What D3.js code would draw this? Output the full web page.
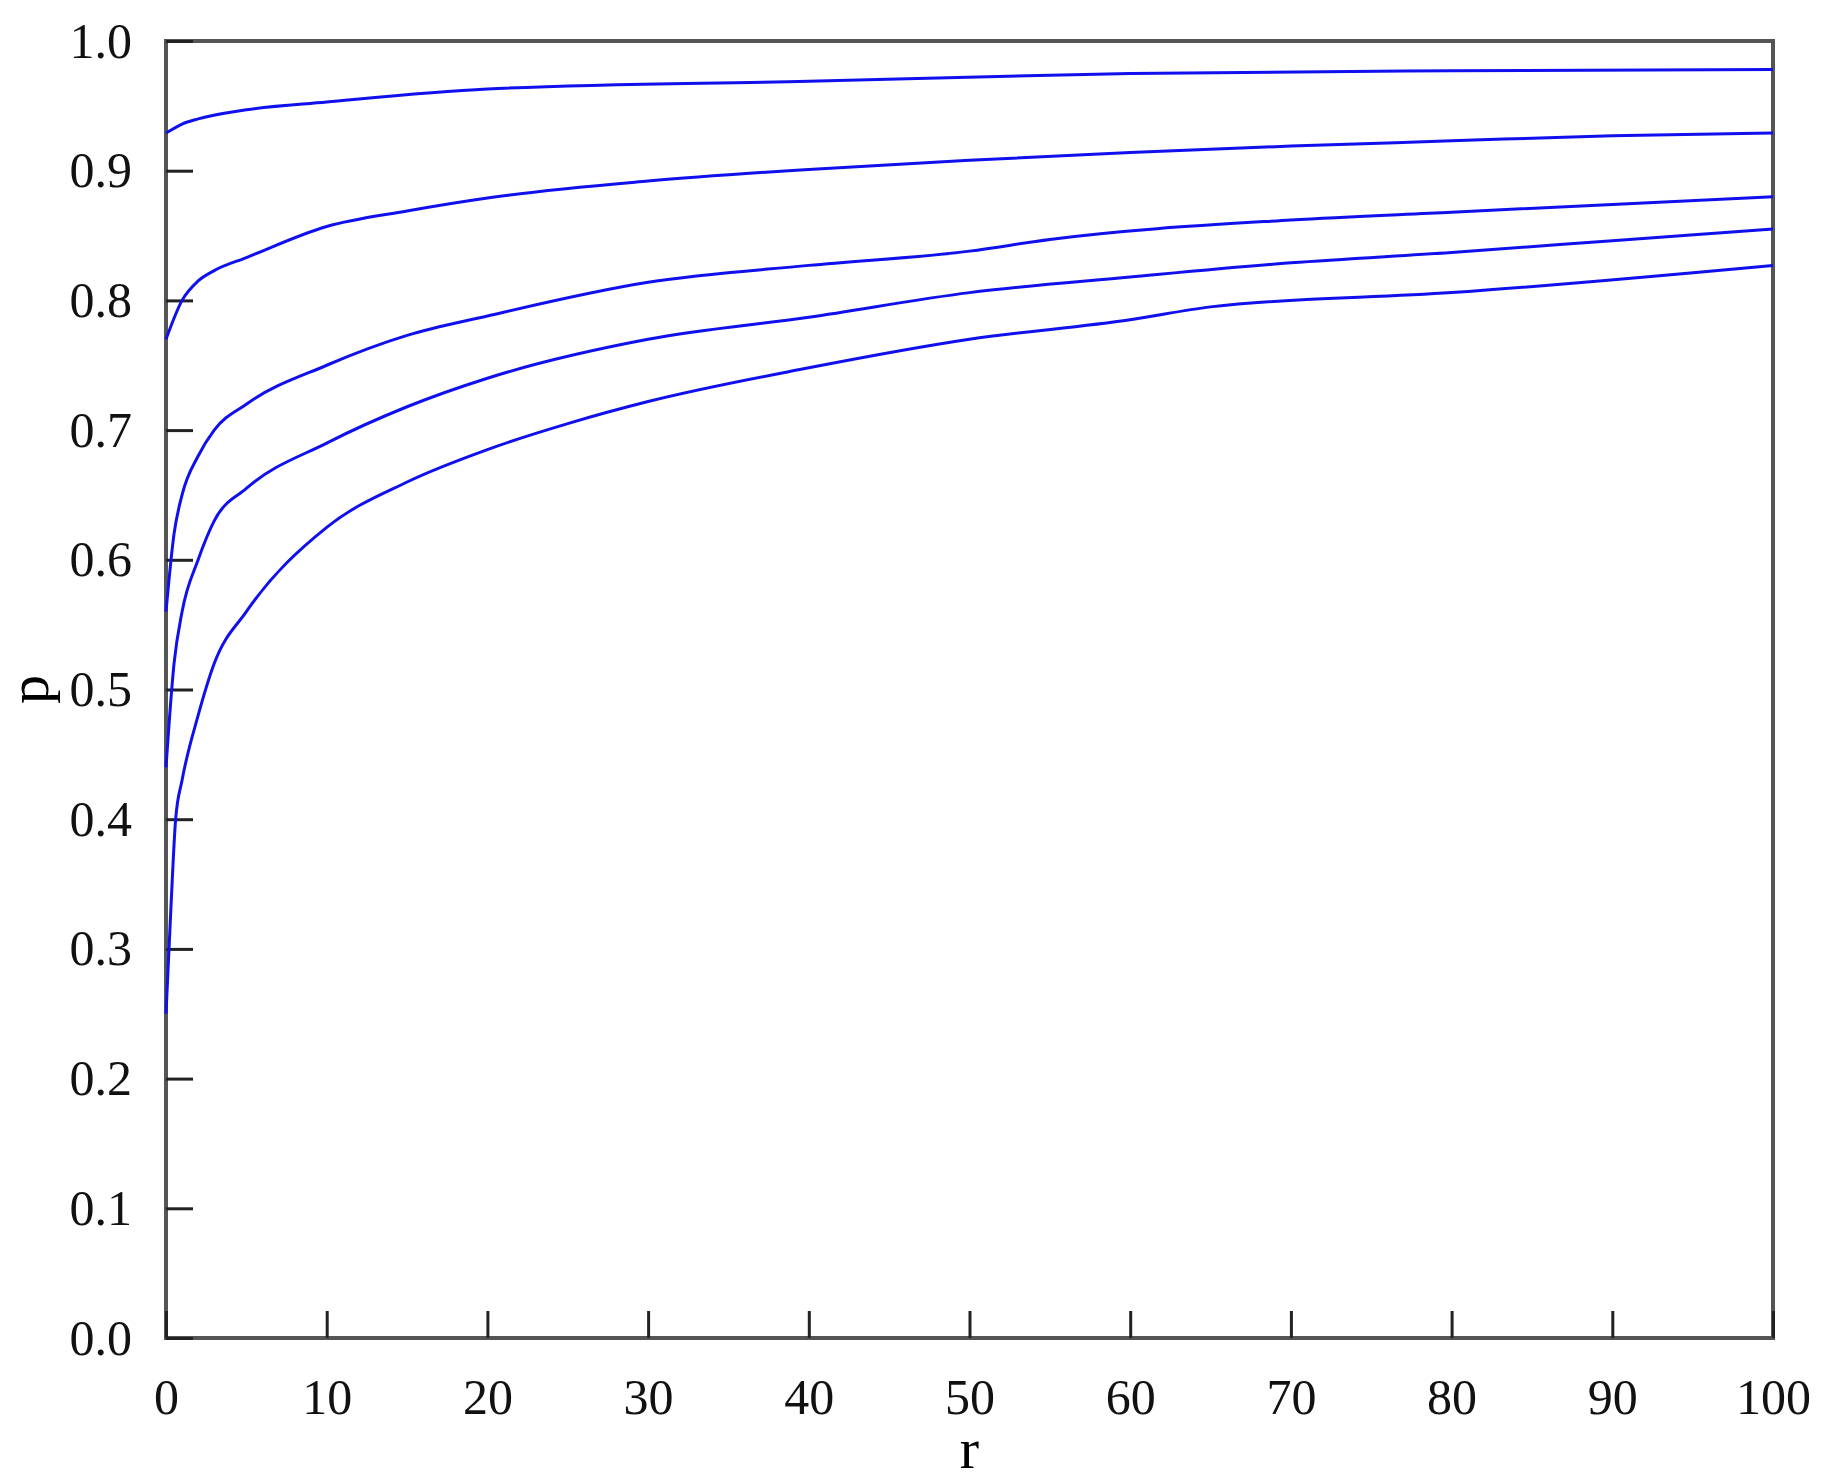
<!DOCTYPE html>
<html><head><meta charset="utf-8">
<script src="https://cdn.jsdelivr.net/npm/d3@7"></script>
<style>body{margin:0;background:#fff}</style>
</head><body>
<svg width="1833" height="1480"></svg>
<script>
var xTicks = [0,10,20,30,40,50,60,70,80,90,100];
var yTicks = [0,0.1,0.2,0.3,0.4,0.5,0.6,0.7,0.8,0.9,1.0];

var r1 = [0,1,2,5,10,20,40,60,80,100];
var p1 = [0.929,0.936,0.940,0.947,0.953,0.963,0.969,0.975,0.977,0.978];
var r2 = [0,1,2,3,5,10,15,20,30,40,50,60,70,80,90,100];
var p2 = [0.770,0.800,0.815,0.823,0.833,0.857,0.869,0.879,0.892,0.901,0.908,0.914,0.919,0.923,0.927,0.929];
var r3 = [0,0.5,1,2,3,5,10,15,20,30,40,50,55,70,80,100];
var p3 = [0.560,0.620,0.650,0.680,0.700,0.720,0.750,0.773,0.788,0.814,0.827,0.838,0.847,0.862,0.868,0.880];
var r4 = [0,0.5,1,2,3,5,10,15,20,30,40,50,60,70,80,90,100];
var p4 = [0.440,0.520,0.560,0.600,0.630,0.655,0.690,0.718,0.740,0.770,0.787,0.806,0.818,0.829,0.837,0.846,0.855];
var r5 = [0,0.3,0.6,1,2,3,5,10,15,20,25,30,40,50,60,65,80,100];
var p5 = [0.250,0.330,0.400,0.430,0.480,0.520,0.560,0.625,0.660,0.685,0.705,0.722,0.748,0.770,0.785,0.795,0.806,0.827];

var series = [[r1,p1],[r2,p2],[r3,p3],[r4,p4],[r5,p5]];

var svg = d3.select("svg");
var mLeft = 166, mRight = 1773, mTop = 41, mBottom = 1338;
var x = d3.scaleLinear().domain([0,100]).range([mLeft,mRight]);
var y = d3.scaleLinear().domain([0,1]).range([mBottom,mTop]);
var font = "'Liberation Serif', 'DejaVu Serif', serif";

svg.append("rect").attr("x",mLeft).attr("y",mTop).attr("width",mRight-mLeft).attr("height",mBottom-mTop)
  .attr("fill","none").attr("stroke","#555").attr("stroke-width",4);

var gx = svg.append("g").attr("transform","translate(0,"+mBottom+")")
  .call(d3.axisBottom(x).tickValues(xTicks).tickSizeInner(-27).tickSizeOuter(0).tickPadding(40).tickFormat(d3.format("d")));
var gy = svg.append("g").attr("transform","translate("+mLeft+",0)")
  .call(d3.axisLeft(y).tickValues(yTicks).tickSizeInner(-27).tickSizeOuter(0).tickPadding(34).tickFormat(d3.format(".1f")));
[gx,gy].forEach(function(g){
  g.select(".domain").remove();
  g.selectAll(".tick line").attr("stroke","#222").attr("stroke-width",3);
  g.selectAll("text").attr("font-family",font).attr("font-size",50).attr("fill","#111");
});

var line = d3.line().x(function(d){return x(d[0]);}).y(function(d){return y(d[1]);}).curve(d3.curveMonotoneX);
series.forEach(function(s){
  var pts = s[0].map(function(v,i){return [v,s[1][i]];});
  svg.append("path").attr("d",line(pts)).attr("fill","none").attr("stroke","#1010ee").attr("stroke-width",3);
});

svg.append("text").attr("x",(mLeft+mRight)/2).attr("y",1468).attr("text-anchor","middle")
  .attr("font-family",font).attr("font-size",58).text("r");
svg.append("text").attr("transform","translate(48,"+((mTop+mBottom)/2)+") rotate(-90)").attr("text-anchor","middle")
  .attr("font-family",font).attr("font-size",58).text("p");
</script>
</body></html>
